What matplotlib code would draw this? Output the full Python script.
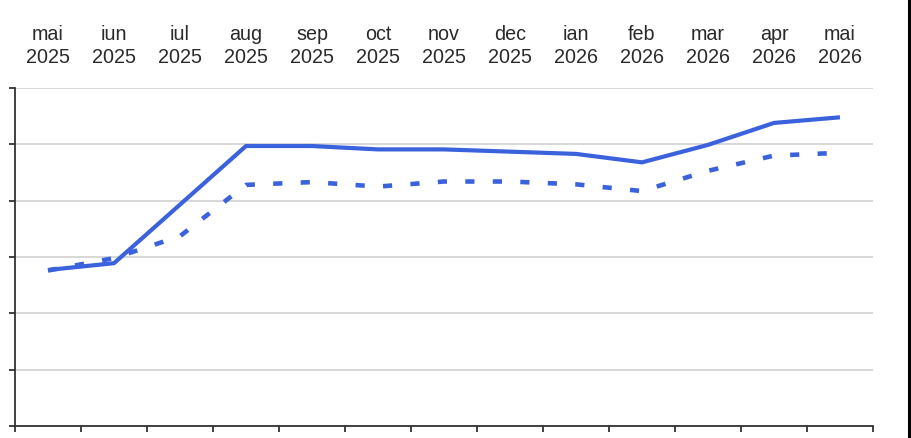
import matplotlib
matplotlib.use("Agg")
import matplotlib.pyplot as plt
from matplotlib.lines import Line2D
import numpy as np

months = ["mai", "iun", "iul", "aug", "sep", "oct", "nov", "dec", "ian", "feb", "mar", "apr", "mai"]
years = ["2025"] * 8 + ["2026"] * 5
solid_vals = [2.77, 2.89, 3.93, 4.97, 4.97, 4.91, 4.91, 4.87, 4.83, 4.68, 4.99, 5.38, 5.48]
dashed_vals = [2.76, 2.98, 3.37, 4.28, 4.33, 4.25, 4.34, 4.34, 4.29, 4.17, 4.53, 4.80, 4.85]

BLUE = "#3a62dc"
AXIS = "#333333"

plt.rcParams["font.family"] = ["Liberation Sans", "DejaVu Sans"]

W, H = 911, 438
fig = plt.figure(figsize=(W / 100, H / 100), dpi=100)
fig.patch.set_facecolor("white")
ax = fig.add_axes([15 / W, (H - 426) / H, (873 - 15) / W, (426 - 88) / H])

x = np.arange(len(months))
ax.plot(x, solid_vals, "-", color=BLUE, lw=3.0, solid_capstyle="butt", zorder=3)
ax.plot(x, dashed_vals, color=BLUE, lw=3.3, dashes=(2.0, 4.0), dash_capstyle="butt", zorder=3)

ax.set_xlim(-0.5, len(months) - 0.5)
ax.set_ylim(0, 6)
ax.set_yticks(range(0, 7))
ax.set_yticklabels([])
ax.yaxis.grid(True, color="#d4d4d4", lw=1.3)
ax.set_axisbelow(True)

ax.set_xticks(x)
ax.set_xticklabels([f"{m}\n{y}" for m, y in zip(months, years)], linespacing=1.3)
ax.set_xticks(np.arange(-0.5, len(months)), minor=True)
ax.tick_params(axis="x", which="major", bottom=False, top=True, labelbottom=False,
               labeltop=True, length=0, pad=15, labelsize=14.2, labelcolor="#2a2a2a")
ax.tick_params(axis="x", which="minor", bottom=True, top=False, length=4,
               width=1.3, color=AXIS, direction="out")
ax.tick_params(axis="y", length=4, width=1.3, color=AXIS, direction="out")

for side in ("top", "right"):
    ax.spines[side].set_visible(False)
for side in ("left", "bottom"):
    ax.spines[side].set_color(AXIS)
    ax.spines[side].set_linewidth(1.3)

fig.add_artist(Line2D([908.5 / W, 908.5 / W], [0, 1], transform=fig.transFigure,
                      color="black", lw=2.2))

fig.savefig("out.png", dpi=100, facecolor="white")
